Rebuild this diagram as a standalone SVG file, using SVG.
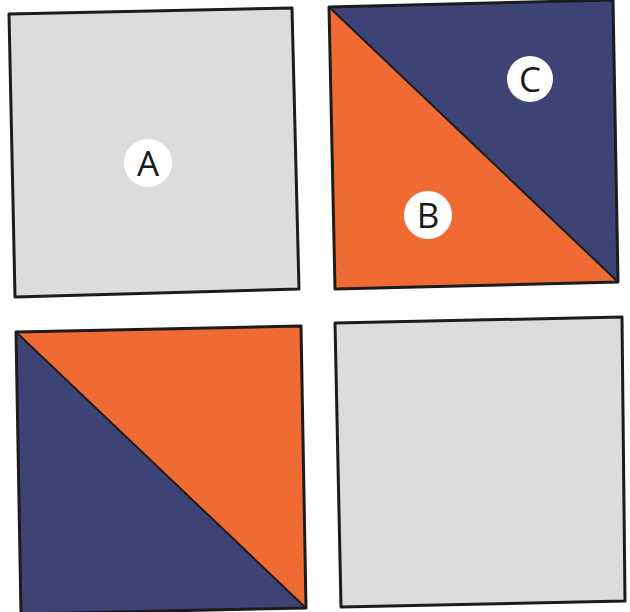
<svg xmlns="http://www.w3.org/2000/svg" width="630" height="612" viewBox="0 0 630 612">
  <style>
    .gray { fill: #dcdcde; }
    .orange { fill: #f06a34; }
    .navy { fill: #3e4376; }
    .edge { fill: none; stroke: #1c1c1c; stroke-width: 3; stroke-linejoin: round; }
    .diag { stroke: #1c1c1c; stroke-width: 2; }
    .badge { fill: #ffffff; }
    .lbl { font-family: "Open Sans", "Noto Sans", sans-serif; font-size: 35px; fill: #1a1a1a; text-anchor: middle; }
  </style>
  <rect width="630" height="612" fill="#ffffff"/>

  <g id="square-A">
    <polygon class="gray" points="9,14 292,8 299,289 15,297"/>
    <polygon class="edge" points="9,14 292,8 299,289 15,297"/>
    <circle class="badge" cx="148" cy="163" r="24"/>
    <text class="lbl" x="148" y="176">A</text>
  </g>

  <g id="square-BC">
    <polygon class="orange" points="329,7 618,282 335,289"/>
    <polygon class="navy" points="329,7 613,0 618,282"/>
    <line class="diag" x1="329" y1="7" x2="618" y2="282"/>
    <polygon class="edge" points="329,7 613,0 618,282 335,289"/>
    <circle class="badge" cx="530" cy="79" r="23"/>
    <text class="lbl" x="530" y="92">C</text>
    <circle class="badge" cx="428" cy="215" r="24"/>
    <text class="lbl" x="428" y="228">B</text>
  </g>

  <g id="square-D">
    <polygon class="orange" points="16,332 301,326 306,608"/>
    <polygon class="navy" points="16,332 306,608 21,614"/>
    <line class="diag" x1="16" y1="332" x2="306" y2="608"/>
    <polygon class="edge" points="16,332 301,326 306,608 21,614"/>
  </g>

  <g id="square-E">
    <polygon class="gray" points="335,323 622,317 625,601 341,607"/>
    <polygon class="edge" points="335,323 622,317 625,601 341,607"/>
  </g>

  <g id="connectors"/>
</svg>
